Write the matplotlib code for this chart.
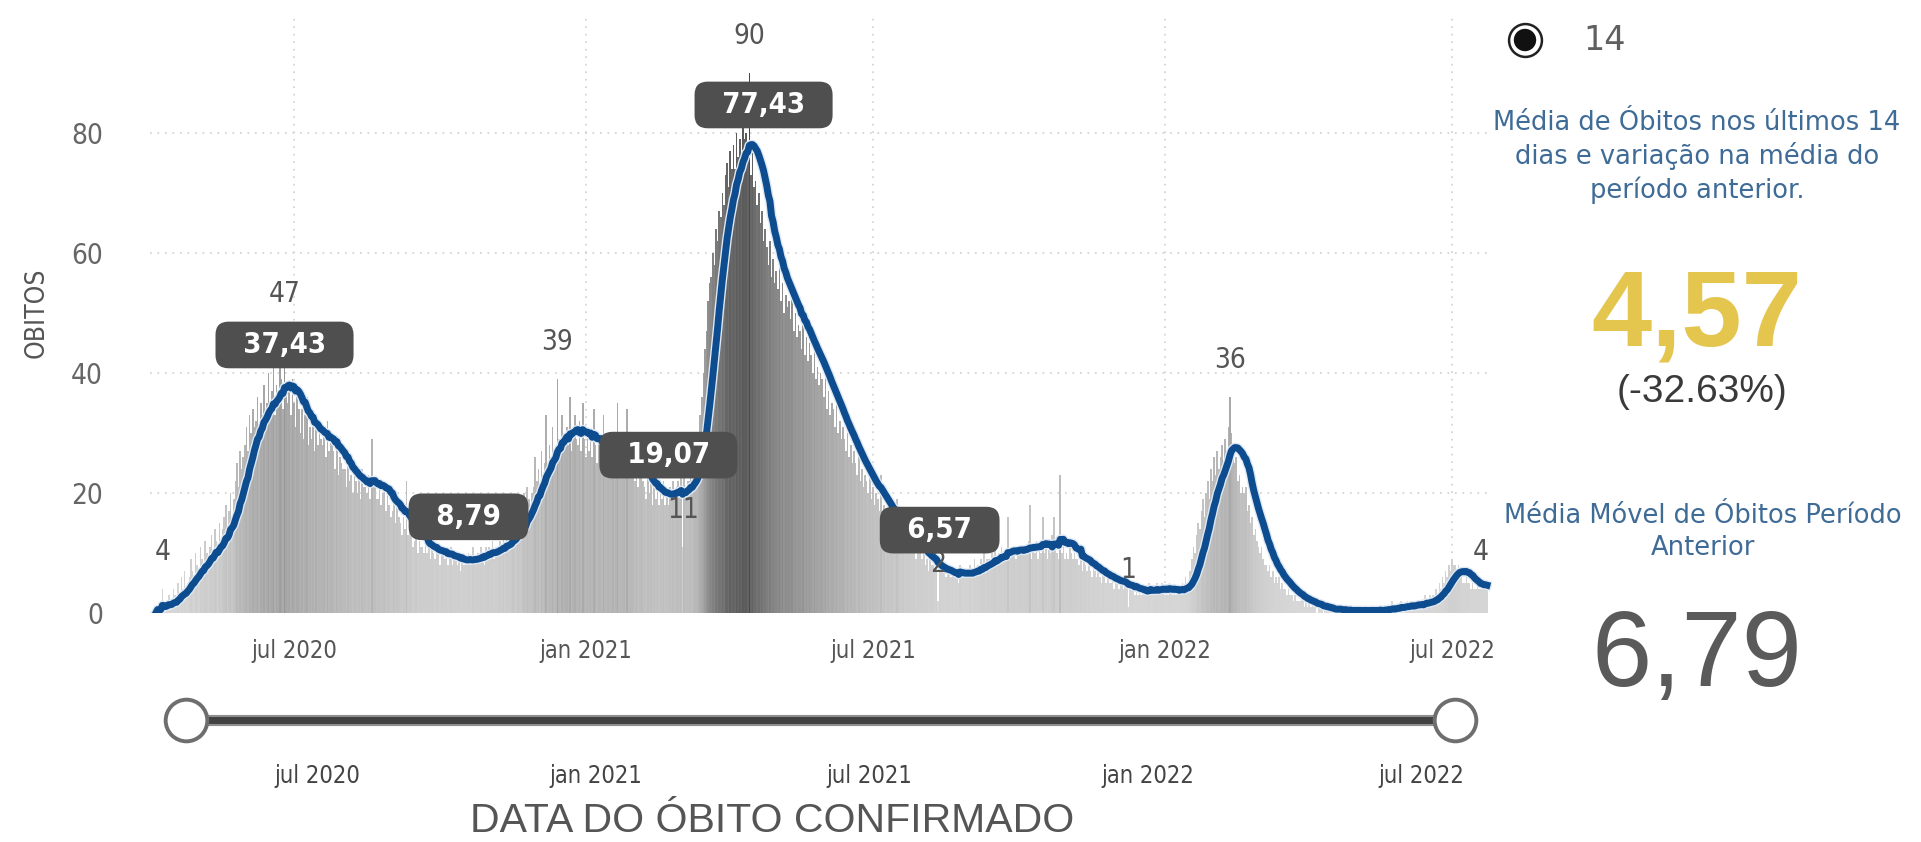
import numpy as np
import pandas as pd
import matplotlib
matplotlib.use("Agg")
import matplotlib.pyplot as plt
from matplotlib import patheffects as pe
from matplotlib.colors import LinearSegmentedColormap

# obitos confirmados por dia, a partir de 05/04/2020 (uma semana por linha)
inicio = "2020-04-05"
obitos = [
    0, 1, 0, 1, 4, 1, 0,
    2, 3, 1, 2, 4, 3, 2,
    5, 3, 6, 4, 7, 3, 5,
    6, 9, 7, 5, 10, 8, 6,
    11, 9, 8, 12, 10, 7, 11,
    13, 10, 14, 12, 9, 15, 12,
    14, 16, 18, 13, 17, 20, 15,
    19, 22, 25, 21, 27, 24, 26,
    28, 31, 27, 33, 30, 34, 31,
    32, 36, 30, 35, 33, 38, 31,
    35, 40, 34, 37, 41, 33, 38,
    36, 42, 39, 34, 47, 38, 35,
    37, 33, 39, 35, 31, 36, 34,
    30, 34, 29, 33, 36, 28, 31,
    29, 31, 27, 33, 28, 30, 29,
    28, 30, 26, 32, 27, 29, 28,
    27, 24, 28, 23, 26, 25, 24,
    24, 21, 25, 22, 23, 20, 24,
    22, 20, 23, 19, 24, 21, 21,
    20, 23, 19, 29, 21, 22, 19,
    19, 21, 18, 20, 22, 17, 20,
    18, 16, 17, 19, 15, 18, 16,
    15, 13, 16, 14, 22, 13, 14,
    13, 11, 12, 14, 10, 12, 11,
    11, 10, 12, 10, 11, 9, 12,
    10, 9, 11, 10, 8, 11, 10,
    9, 10, 8, 9, 11, 8, 9,
    9, 8, 10, 7, 9, 8, 9,
    8, 10, 9, 8, 11, 9, 9,
    10, 9, 11, 10, 8, 11, 10,
    11, 10, 12, 9, 11, 10, 11,
    12, 11, 14, 10, 13, 12, 12,
    13, 16, 14, 12, 17, 15, 14,
    17, 20, 16, 21, 19, 18, 20,
    21, 26, 22, 24, 20, 27, 23,
    25, 33, 24, 28, 26, 31, 25,
    27, 39, 29, 26, 33, 28, 30,
    31, 28, 36, 27, 30, 33, 29,
    28, 32, 27, 35, 29, 26, 30,
    27, 30, 26, 34, 28, 25, 29,
    28, 26, 33, 27, 25, 29, 26,
    27, 30, 25, 28, 35, 26, 27,
    26, 29, 24, 34, 25, 27, 26,
    24, 22, 26, 21, 23, 25, 22,
    21, 19, 23, 20, 22, 18, 21,
    19, 21, 18, 20, 19, 22, 18,
    20, 18, 21, 19, 22, 20, 21,
    22, 20, 23, 11, 24, 21, 22,
    22, 24, 21, 25, 27, 26, 30,
    33, 36, 40, 44, 47, 52, 55,
    56, 60, 58, 64, 62, 67, 66,
    70, 68, 73, 75, 71, 77, 74,
    78, 74, 80, 76, 79, 75, 81,
    79, 80, 76, 90, 73, 77, 71,
    72, 68, 70, 65, 67, 62, 64,
    61, 58, 62, 56, 59, 55, 57,
    54, 58, 52, 55, 50, 53, 51,
    52, 49, 53, 47, 50, 46, 48,
    47, 44, 49, 43, 46, 42, 45,
    43, 40, 44, 39, 41, 38, 40,
    39, 36, 40, 34, 37, 33, 35,
    34, 31, 35, 30, 32, 29, 31,
    29, 27, 30, 26, 28, 25, 27,
    25, 23, 26, 22, 24, 21, 23,
    22, 20, 23, 19, 21, 18, 20,
    19, 17, 23, 16, 18, 15, 17,
    16, 14, 17, 13, 15, 19, 14,
    13, 12, 14, 11, 13, 12, 12,
    11, 10, 12, 9, 11, 10, 10,
    9, 10, 8, 9, 7, 9, 8,
    8, 7, 9, 2, 8, 7, 7,
    7, 6, 8, 7, 6, 7, 6,
    6, 7, 5, 8, 6, 7, 6,
    7, 6, 8, 7, 6, 9, 7,
    8, 7, 9, 8, 10, 7, 9,
    9, 8, 10, 9, 11, 8, 10,
    10, 11, 9, 10, 10, 16, 9,
    10, 10, 11, 9, 10, 10, 11,
    10, 10, 11, 10, 12, 18, 9,
    11, 10, 12, 9, 11, 10, 16,
    10, 12, 9, 11, 10, 13, 16,
    11, 10, 9, 23, 10, 11, 9,
    10, 9, 11, 10, 9, 10, 9,
    9, 8, 10, 7, 9, 8, 7,
    8, 7, 6, 8, 7, 6, 7,
    6, 5, 7, 6, 5, 6, 5,
    5, 6, 4, 5, 6, 4, 5,
    5, 4, 6, 4, 1, 5, 4,
    4, 3, 5, 3, 4, 3, 4,
    3, 4, 3, 5, 4, 3, 4,
    4, 5, 3, 4, 5, 4, 3,
    4, 3, 5, 4, 3, 4, 3,
    4, 3, 4, 5, 4, 6, 5,
    5, 7, 9, 11, 10, 13, 15,
    14, 17, 19, 16, 20, 22, 19,
    24, 22, 26, 23, 27, 24, 26,
    28, 25, 29, 27, 31, 36, 30,
    28, 25, 26, 22, 23, 20, 21,
    20, 21, 17, 18, 15, 16, 13,
    14, 12, 11, 10, 11, 9, 8,
    8, 7, 8, 6, 7, 5, 6,
    5, 6, 4, 5, 4, 4, 3,
    4, 3, 3, 2, 3, 2, 2,
    2, 3, 2, 1, 2, 1, 2,
    1, 2, 1, 1, 0, 1, 1,
    1, 0, 1, 1, 0, 1, 0,
    1, 0, 0, 1, 0, 1, 0,
    0, 1, 0, 0, 1, 0, 0,
    1, 0, 0, 1, 0, 0, 1,
    0, 0, 1, 0, 1, 0, 0,
    1, 0, 1, 0, 0, 1, 1,
    1, 0, 2, 1, 0, 1, 1,
    1, 2, 1, 0, 1, 2, 1,
    2, 1, 1, 2, 1, 2, 1,
    2, 1, 3, 2, 1, 3, 2,
    3, 2, 4, 3, 5, 4, 6,
    5, 7, 6, 8, 7, 9, 8,
    8, 7, 8, 6, 6, 5, 5,
    6, 5, 5, 4, 5, 4, 4,
    5, 4, 4, 5, 4, 5, 4,
]

# rotulos de valor nas barras
datas_rotulo_barra = ["2020-04-09", "2020-06-25", "2020-12-14", "2021-03-03",
                      "2021-04-14", "2021-08-11", "2021-12-09", "2022-02-11",
                      "2022-07-19"]
# rotulos da media movel (caixas)
datas_rotulo_media = ["2020-06-25", "2020-10-19", "2021-02-22", "2021-04-23", "2021-08-12"]
valores_rotulo_media = [37.43, 8.79, 19.07, 77.43, 6.57]

ticks_datas = ["2020-07-01", "2021-01-01", "2021-07-01", "2022-01-01", "2022-07-01"]
ticks_rotulos = ["jul 2020", "jan 2021", "jul 2021", "jan 2022", "jul 2022"]
ticks_y = [0, 20, 40, 60, 80]

datas = pd.date_range(inicio, periods=len(obitos), freq="D")
serie = pd.Series(obitos, index=datas, dtype=float)
media_movel = serie.rolling(14, min_periods=1).mean()

ultimos = serie.iloc[-14:].mean()
anterior = serie.iloc[-28:-14].mean()
variacao = (ultimos / anterior - 1) * 100

W, H = 1921, 842
SANS = ["Liberation Sans", "DejaVu Sans"]
COND = dict(family=["DejaVu Sans"], stretch="condensed")


def fx(px):
    return px / W


def fy(py):
    return 1 - py / H


fig = plt.figure(figsize=(W / 100, H / 100), dpi=100)
fig.patch.set_facecolor("white")

# grafico principal
ax = fig.add_axes([fx(150), fy(612.6), fx(1492 - 150), (612.6 - 15) / H])
cmap = LinearSegmentedColormap.from_list("cinza", ["#d8d8d8", "#4a4a4a"])
cores = cmap((serie.values / 90.0) ** 1.2)
ax.bar(datas, serie.values, width=1.0, color=cores, linewidth=0, zorder=2)
ax.plot(datas, media_movel.values, color="#0d4c8e", lw=5, zorder=3,
        solid_joinstyle="round",
        path_effects=[pe.Stroke(linewidth=7, foreground="#dfe8f3"), pe.Normal()])

t0 = pd.Timestamp(inicio)
ax.set_xlim(t0 - pd.Timedelta(days=3.8), t0 + pd.Timedelta(days=842.2))
ax.set_ylim(0, 99.6)
ax.set_xticks(pd.to_datetime(ticks_datas))
ax.set_xticklabels(ticks_rotulos, fontsize=17, color="#555555", **COND)
ax.set_yticks(ticks_y)
ax.set_yticklabels([str(v) for v in ticks_y], fontsize=20, color="#666666", **COND)
ax.tick_params(axis="x", length=0, pad=19)
ax.tick_params(axis="y", length=0, pad=34)
for s in ax.spines.values():
    s.set_visible(False)
ax.grid(True, color="#cfcfcf", linestyle=(0, (1, 3.5)), linewidth=1.2, zorder=0)
ax.set_axisbelow(True)

for d in datas_rotulo_barra:
    v = serie[pd.Timestamp(d)]
    ax.annotate(f"{v:.0f}", xy=(pd.Timestamp(d), v), xytext=(0, 26),
                textcoords="offset points", ha="center", va="center",
                fontsize=20, color="#555555", zorder=4, **COND)

for d, v in zip(datas_rotulo_media, valores_rotulo_media):
    txt = "  " + f"{v:.2f}".replace(".", ",") + "  "
    ax.annotate(txt, xy=(pd.Timestamp(d), v), xytext=(0, 31),
                textcoords="offset points", ha="center", va="center",
                fontsize=21, fontweight="bold", color="white",
                bbox=dict(boxstyle="round,pad=0.32,rounding_size=0.45",
                          fc="#4f4f4f", ec="none"), zorder=6, **COND)

fig.text(fx(37), fy(313), "OBITOS", rotation=90, ha="center", va="center",
         fontsize=19, color="#555555", **COND)

# controle deslizante de datas
ax2 = fig.add_axes([fx(186), fy(740), fx(1455 - 186), 40 / H])
ax2.set_xlim(datas[0], datas[-1])
ax2.set_ylim(-1, 1)
ax2.plot([datas[0], datas[-1]], [0, 0], color="#8e8e8e", lw=8, solid_capstyle="butt", zorder=1)
ax2.plot([datas[0], datas[-1]], [0, 0], color="#414141", lw=5, solid_capstyle="butt", zorder=2)
ax2.scatter([datas[0], datas[-1]], [0, 0], s=900, facecolor="white", edgecolor="#6e6e6e",
            linewidth=2.8, zorder=3, clip_on=False)
ax2.set_xticks(pd.to_datetime(ticks_datas))
ax2.set_xticklabels(ticks_rotulos, fontsize=17, color="#444444", **COND)
ax2.set_yticks([])
ax2.tick_params(axis="x", length=0, pad=17)
for s in ax2.spines.values():
    s.set_visible(False)
ax2.patch.set_alpha(0)

fig.text(fx(772), fy(821), "DATA DO ÓBITO CONFIRMADO", ha="center", va="center",
         family=SANS, fontsize=29.5, color="#555555")

# painel lateral
ax3 = fig.add_axes([0, 0, 1, 1])
ax3.set_xlim(0, W)
ax3.set_ylim(H, 0)
ax3.axis("off")
ax3.patch.set_alpha(0)
ax3.scatter([1525], [40], s=560, facecolor="white", edgecolor="#222222", linewidth=1.8)
ax3.scatter([1525], [40], s=260, facecolor="#111111", edgecolor="none")

fig.text(fx(1583), fy(40), "14", ha="left", va="center", family=["DejaVu Sans"],
         fontsize=24, color="#606060")
fig.text(fx(1697), fy(157), "Média de Óbitos nos últimos 14\ndias e variação na média do\nperíodo anterior.",
         ha="center", va="center", family=["DejaVu Sans"], fontsize=18.5, color="#3f6b97",
         linespacing=1.27)
fig.text(fx(1697), fy(318), f"{ultimos:.2f}".replace(".", ","), ha="center", va="center",
         family=SANS, fontsize=78, fontweight="bold", color="#e4c54e")
fig.text(fx(1702), fy(392), f"({variacao:.2f}%)", ha="center", va="center",
         family=SANS, fontsize=28, color="#3a3a3a")
fig.text(fx(1703), fy(532), "Média Móvel de Óbitos Período\nAnterior",
         ha="center", va="center", family=["DejaVu Sans"], fontsize=18.5, color="#3f6b97",
         linespacing=1.27)
fig.text(fx(1697), fy(658), f"{anterior:.2f}".replace(".", ","), ha="center", va="center",
         family=SANS, fontsize=78, color="#5a5a5a")

fig.savefig("out.png", dpi=100, facecolor="white")
